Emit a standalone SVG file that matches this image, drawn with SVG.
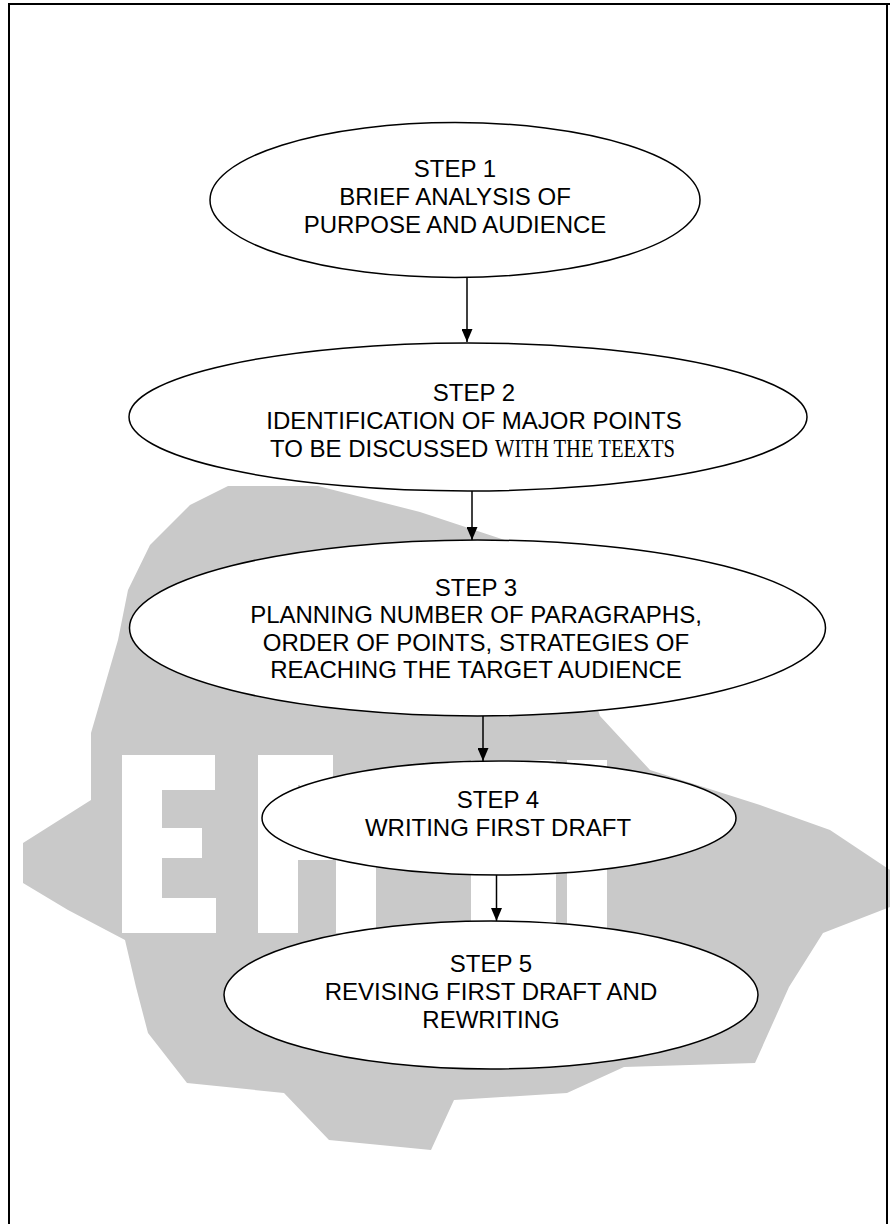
<svg xmlns="http://www.w3.org/2000/svg" width="890" height="1224" viewBox="0 0 890 1224">
  <style>
    .node ellipse { fill: #ffffff; stroke: #000000; stroke-width: 1.5; }
    .lbl { font-family: "Liberation Sans", Arial, sans-serif; font-size: 24px; fill: #000000; text-anchor: middle; }
    .serif { font-family: "Liberation Serif", "Times New Roman", serif; font-size: 25px; fill: #000000; }
    .edge { stroke: #000000; stroke-width: 1.5; fill: none; marker-end: url(#arrow); }
    .wm { fill: #c9c9c9; }
  </style>
  <defs>
    <marker id="arrow" viewBox="0 0 13 11" refX="13" refY="5.5" markerWidth="13" markerHeight="11" markerUnits="userSpaceOnUse" orient="auto">
      <path d="M0,0 L13,5.5 L0,11 z" fill="#000000"/>
    </marker>
  </defs>
  <rect x="0" y="0" width="890" height="1224" fill="#ffffff"/>

  <g id="watermark">
    <polygon class="wm" points="228,486 318,486 420,512 520,545 560,600 600,716 650,770 760,805 830,830 890,870 890,907 823,933 789,987 755,1063 624,1067 567,1093 454,1100 431,1150 329,1140 284,1093 187,1083 148,1033 136,987 125,940 68,910 23,883 23,843 91,800 91,733 118,640 128,590 150,545 190,505"/>
    <g fill="#ffffff">
      <rect x="122" y="755" width="40" height="178"/>
      <rect x="122" y="755" width="93" height="35"/>
      <rect x="122" y="828" width="80" height="30"/>
      <rect x="122" y="898" width="94" height="35"/>
      <rect x="258" y="755" width="40" height="178"/>
      <rect x="258" y="755" width="75" height="30"/>
      <rect x="258" y="830" width="75" height="30"/>
      <rect x="300" y="755" width="33" height="105"/>
      <rect x="336" y="845" width="40" height="88"/>
      <rect x="471" y="760" width="85" height="170"/>
      <rect x="567" y="760" width="40" height="170"/>
    </g>
  </g>

  <g id="frame" stroke="#000000" stroke-width="2" fill="none">
    <line x1="8" y1="4" x2="890" y2="4"/>
    <line x1="9" y1="4" x2="9" y2="1224"/>
    <line x1="887" y1="4" x2="887" y2="1224"/>
  </g>

  <g id="connectors">
    <line class="edge" x1="467" y1="278" x2="467" y2="342"/>
    <line class="edge" x1="472" y1="491" x2="472" y2="540"/>
    <line class="edge" x1="483" y1="716" x2="483" y2="761"/>
    <line class="edge" x1="496.5" y1="875" x2="496.5" y2="921"/>
  </g>

  <g id="step1" class="node">
    <ellipse cx="455" cy="200" rx="245" ry="77.5"/>
    <text class="lbl" x="455" y="176.5">STEP 1</text>
    <text class="lbl" x="455" y="204.5">BRIEF ANALYSIS OF</text>
    <text class="lbl" x="455" y="232.5">PURPOSE AND AUDIENCE</text>
  </g>

  <g id="step2" class="node">
    <ellipse cx="468" cy="417" rx="339" ry="74"/>
    <text class="lbl" x="474" y="400.7">STEP 2</text>
    <text class="lbl" x="474" y="429.3">IDENTIFICATION OF MAJOR POINTS</text>
    <text class="lbl" x="270" y="457.3" style="text-anchor:start">TO BE DISCUSSED</text>
    <text class="serif" x="495" y="457.3" textLength="180" lengthAdjust="spacingAndGlyphs">WITH THE TEEXTS</text>
  </g>

  <g id="step3" class="node">
    <ellipse cx="477.5" cy="628" rx="348" ry="88"/>
    <text class="lbl" x="476" y="596">STEP 3</text>
    <text class="lbl" x="476" y="623.3">PLANNING NUMBER OF PARAGRAPHS,</text>
    <text class="lbl" x="476" y="650.7">ORDER OF POINTS, STRATEGIES OF</text>
    <text class="lbl" x="476" y="678.3">REACHING THE TARGET AUDIENCE</text>
  </g>

  <g id="step4" class="node">
    <ellipse cx="499" cy="818" rx="237" ry="57"/>
    <text class="lbl" x="498" y="808.3">STEP 4</text>
    <text class="lbl" x="498" y="835.7">WRITING FIRST DRAFT</text>
  </g>

  <g id="step5" class="node">
    <ellipse cx="491" cy="995" rx="267" ry="74"/>
    <text class="lbl" x="491" y="971.7">STEP 5</text>
    <text class="lbl" x="491" y="1000">REVISING FIRST DRAFT AND</text>
    <text class="lbl" x="491" y="1028.3">REWRITING</text>
  </g>
</svg>
